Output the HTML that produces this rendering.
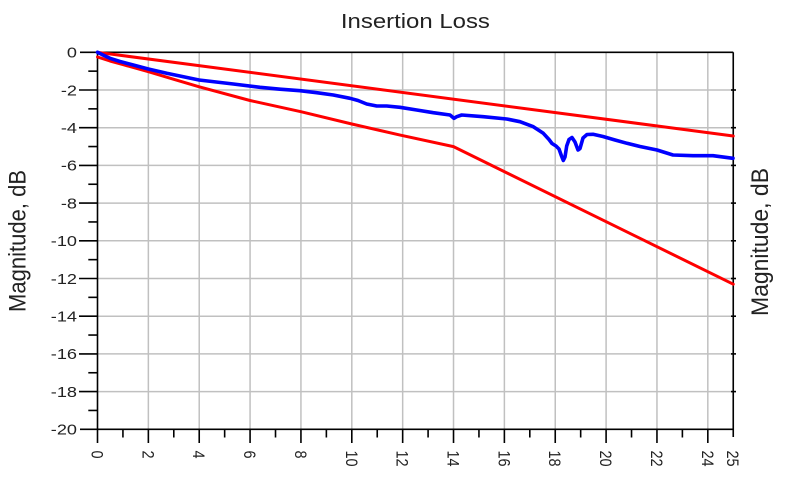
<!DOCTYPE html>
<html><head><meta charset="utf-8"><style>
html,body{margin:0;padding:0;background:#fff;}
svg{display:block;}
text{font-family:"Liberation Sans",Arial,sans-serif;fill:#222;}
</style></head><body>
<svg width="787" height="491" viewBox="0 0 787 491" xmlns="http://www.w3.org/2000/svg">
<rect width="787" height="491" fill="#fff"/>
<!-- title -->
<text x="415.4" y="28" font-size="20" text-anchor="middle" textLength="149" lengthAdjust="spacingAndGlyphs">Insertion Loss</text>
<!-- grid -->
<g stroke="#c0c0c0" stroke-width="1.5">
<line x1="148.36" y1="52.3" x2="148.36" y2="429.3"/>
<line x1="199.22" y1="52.3" x2="199.22" y2="429.3"/>
<line x1="250.08" y1="52.3" x2="250.08" y2="429.3"/>
<line x1="300.94" y1="52.3" x2="300.94" y2="429.3"/>
<line x1="351.8" y1="52.3" x2="351.8" y2="429.3"/>
<line x1="402.66" y1="52.3" x2="402.66" y2="429.3"/>
<line x1="453.52" y1="52.3" x2="453.52" y2="429.3"/>
<line x1="504.38" y1="52.3" x2="504.38" y2="429.3"/>
<line x1="555.24" y1="52.3" x2="555.24" y2="429.3"/>
<line x1="606.1" y1="52.3" x2="606.1" y2="429.3"/>
<line x1="656.96" y1="52.3" x2="656.96" y2="429.3"/>
<line x1="707.82" y1="52.3" x2="707.82" y2="429.3"/>
<line x1="97.5" y1="90" x2="733.25" y2="90"/>
<line x1="97.5" y1="127.7" x2="733.25" y2="127.7"/>
<line x1="97.5" y1="165.4" x2="733.25" y2="165.4"/>
<line x1="97.5" y1="203.1" x2="733.25" y2="203.1"/>
<line x1="97.5" y1="240.8" x2="733.25" y2="240.8"/>
<line x1="97.5" y1="278.5" x2="733.25" y2="278.5"/>
<line x1="97.5" y1="316.2" x2="733.25" y2="316.2"/>
<line x1="97.5" y1="353.9" x2="733.25" y2="353.9"/>
<line x1="97.5" y1="391.6" x2="733.25" y2="391.6"/>
</g>
<!-- axes -->
<g stroke="#000" stroke-width="1.6" fill="none">
<line x1="80" y1="52.3" x2="733.25" y2="52.3"/>
<line x1="733.25" y1="52.3" x2="733.25" y2="437"/>
<line x1="80" y1="429.3" x2="733.25" y2="429.3"/>
<line x1="97.5" y1="52.3" x2="97.5" y2="443"/>
<!-- y major ticks -->
<line x1="79" y1="90" x2="97.5" y2="90"/>
<line x1="79" y1="127.7" x2="97.5" y2="127.7"/>
<line x1="79" y1="165.4" x2="97.5" y2="165.4"/>
<line x1="79" y1="203.1" x2="97.5" y2="203.1"/>
<line x1="79" y1="240.8" x2="97.5" y2="240.8"/>
<line x1="79" y1="278.5" x2="97.5" y2="278.5"/>
<line x1="79" y1="316.2" x2="97.5" y2="316.2"/>
<line x1="79" y1="353.9" x2="97.5" y2="353.9"/>
<line x1="79" y1="391.6" x2="97.5" y2="391.6"/>
<!-- y minor ticks -->
<line x1="88.3" y1="71.15" x2="97.5" y2="71.15"/>
<line x1="88.3" y1="108.85" x2="97.5" y2="108.85"/>
<line x1="88.3" y1="146.55" x2="97.5" y2="146.55"/>
<line x1="88.3" y1="184.25" x2="97.5" y2="184.25"/>
<line x1="88.3" y1="221.95" x2="97.5" y2="221.95"/>
<line x1="88.3" y1="259.65" x2="97.5" y2="259.65"/>
<line x1="88.3" y1="297.35" x2="97.5" y2="297.35"/>
<line x1="88.3" y1="335.05" x2="97.5" y2="335.05"/>
<line x1="88.3" y1="372.75" x2="97.5" y2="372.75"/>
<line x1="88.3" y1="410.45" x2="97.5" y2="410.45"/>
<!-- right ticks -->
<line x1="731" y1="90" x2="736" y2="90"/>
<line x1="731" y1="127.7" x2="736" y2="127.7"/>
<line x1="731" y1="165.4" x2="736" y2="165.4"/>
<line x1="731" y1="203.1" x2="736" y2="203.1"/>
<line x1="731" y1="240.8" x2="736" y2="240.8"/>
<line x1="731" y1="278.5" x2="736" y2="278.5"/>
<line x1="731" y1="316.2" x2="736" y2="316.2"/>
<line x1="731" y1="353.9" x2="736" y2="353.9"/>
<line x1="731" y1="391.6" x2="736" y2="391.6"/>
<!-- x major ticks -->
<line x1="148.36" y1="429.3" x2="148.36" y2="443"/>
<line x1="199.22" y1="429.3" x2="199.22" y2="443"/>
<line x1="250.08" y1="429.3" x2="250.08" y2="443"/>
<line x1="300.94" y1="429.3" x2="300.94" y2="443"/>
<line x1="351.8" y1="429.3" x2="351.8" y2="443"/>
<line x1="402.66" y1="429.3" x2="402.66" y2="443"/>
<line x1="453.52" y1="429.3" x2="453.52" y2="443"/>
<line x1="504.38" y1="429.3" x2="504.38" y2="443"/>
<line x1="555.24" y1="429.3" x2="555.24" y2="443"/>
<line x1="606.1" y1="429.3" x2="606.1" y2="443"/>
<line x1="656.96" y1="429.3" x2="656.96" y2="443"/>
<line x1="707.82" y1="429.3" x2="707.82" y2="443"/>
<!-- x minor ticks -->
<line x1="122.93" y1="429.3" x2="122.93" y2="437.5"/>
<line x1="173.79" y1="429.3" x2="173.79" y2="437.5"/>
<line x1="224.65" y1="429.3" x2="224.65" y2="437.5"/>
<line x1="275.51" y1="429.3" x2="275.51" y2="437.5"/>
<line x1="326.37" y1="429.3" x2="326.37" y2="437.5"/>
<line x1="377.23" y1="429.3" x2="377.23" y2="437.5"/>
<line x1="428.09" y1="429.3" x2="428.09" y2="437.5"/>
<line x1="478.95" y1="429.3" x2="478.95" y2="437.5"/>
<line x1="529.81" y1="429.3" x2="529.81" y2="437.5"/>
<line x1="580.67" y1="429.3" x2="580.67" y2="437.5"/>
<line x1="631.53" y1="429.3" x2="631.53" y2="437.5"/>
<line x1="682.39" y1="429.3" x2="682.39" y2="437.5"/>
</g>
<!-- y tick labels -->
<g font-size="14.5" text-anchor="end">
<text transform="translate(77,57.6) scale(1.25,1)">0</text>
<text transform="translate(77,95.3) scale(1.25,1)">-2</text>
<text transform="translate(77,133) scale(1.25,1)">-4</text>
<text transform="translate(77,170.7) scale(1.25,1)">-6</text>
<text transform="translate(77,208.4) scale(1.25,1)">-8</text>
<text transform="translate(77,246.1) scale(1.25,1)">-10</text>
<text transform="translate(77,283.8) scale(1.25,1)">-12</text>
<text transform="translate(77,321.5) scale(1.25,1)">-14</text>
<text transform="translate(77,359.2) scale(1.25,1)">-16</text>
<text transform="translate(77,396.9) scale(1.25,1)">-18</text>
<text transform="translate(77,434.6) scale(1.25,1)">-20</text>
</g>
<!-- x tick labels (rotated) -->
<g font-size="14.5">
<text transform="translate(91.5,450.5) scale(1.15,1) rotate(90)">0</text>
<text transform="translate(142.4,450.5) scale(1.15,1) rotate(90)">2</text>
<text transform="translate(193.2,450.5) scale(1.15,1) rotate(90)">4</text>
<text transform="translate(244.1,450.5) scale(1.15,1) rotate(90)">6</text>
<text transform="translate(294.9,450.5) scale(1.15,1) rotate(90)">8</text>
<text transform="translate(345.8,450.5) scale(1.15,1) rotate(90)">10</text>
<text transform="translate(396.7,450.5) scale(1.15,1) rotate(90)">12</text>
<text transform="translate(447.5,450.5) scale(1.15,1) rotate(90)">14</text>
<text transform="translate(498.4,450.5) scale(1.15,1) rotate(90)">16</text>
<text transform="translate(549.2,450.5) scale(1.15,1) rotate(90)">18</text>
<text transform="translate(600.1,450.5) scale(1.15,1) rotate(90)">20</text>
<text transform="translate(651,450.5) scale(1.15,1) rotate(90)">22</text>
<text transform="translate(701.8,450.5) scale(1.15,1) rotate(90)">24</text>
<text transform="translate(727.2,450.5) scale(1.15,1) rotate(90)">25</text>
</g>
<!-- axis titles -->
<text font-size="21" text-anchor="middle" textLength="142" lengthAdjust="spacingAndGlyphs" transform="translate(25.5,241) scale(1.15,1) rotate(-90)">Magnitude, dB</text>
<text font-size="21" text-anchor="middle" textLength="148" lengthAdjust="spacingAndGlyphs" transform="translate(768,242) scale(1.15,1) rotate(-90)">Magnitude, dB</text>
<!-- series -->
<g fill="none" stroke-linejoin="round" stroke-linecap="round">
<line x1="97.5" y1="52.3" x2="733.25" y2="136" stroke="#ff0000" stroke-width="3"/>
<polyline stroke="#ff0000" stroke-width="3" points="97.5,57 110,61 122.9,64.6 148.4,71.7 173.8,79.3 199.2,86.8 250,100.5 300.9,111.7 351.8,124 400.1,135.1 453.5,146.6 733.25,284.2"/>
<polyline stroke="#0000ff" stroke-width="3.6" points="97.5,52.3 104,55.5 110,58.3 120,61.5 133.3,65 148.3,69 166.7,73.3 199,80 233.3,84 260,87.3 280,89.2 300,90.7 316.7,92.7 333.3,95 350,98.3 358,100.5 366.7,104 376.7,106 386.7,106 400,107.3 416.7,110 433.3,112.7 450,115 454,118.3 456.7,116.7 461.7,115 483.3,116.7 506.7,119 520,121.7 533.3,126.7 543.3,133.3 549,139.5 552,143.5 556,146 559,149 561.5,156 563.3,160.5 565,157 566.7,146 569,139.5 572,137.5 575,142 578,150 580,148.5 583,138 587,134.5 593,134.3 603,136.5 615,140 627,143.3 640,146.5 657,150 673,155 693,155.7 713,155.7 733,158.3"/>
</g>
</svg>
</body></html>
